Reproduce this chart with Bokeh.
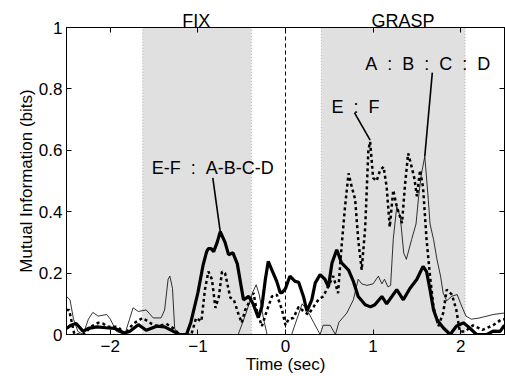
from bokeh.plotting import figure
from bokeh.models import Range1d, FixedTicker, LinearAxis, Label
from bokeh.embed import file_html
from bokeh.resources import INLINE

# ---- data ----
thick_x = [-2.5, -2.45, -2.39, -2.31, -2.25, -2.15, -2.05, -1.95, -1.84, -1.78, -1.68, -1.59, -1.47, -1.38,
           -1.28, -1.21, -1.13, -1.08, -1.0, -0.94, -0.90, -0.88, -0.85, -0.82, -0.78, -0.745, -0.69, -0.65,
           -0.60, -0.55, -0.52, -0.48, -0.42, -0.37, -0.31, -0.27, -0.23, -0.197, -0.155, -0.10, -0.06, -0.04,
           0.0, 0.05, 0.11, 0.15, 0.205, 0.245, 0.30, 0.34, 0.395, 0.45, 0.49, 0.53, 0.585, 0.64, 0.72, 0.775,
           0.83, 0.91, 0.97, 1.02, 1.10, 1.155, 1.27, 1.345, 1.42, 1.50, 1.57, 1.61, 1.65, 1.69, 1.73, 1.80,
           1.88, 1.95, 2.03, 2.10, 2.18, 2.30, 2.37, 2.45, 2.5]
thick_y = [0.02, 0.03, 0.036, 0.01, 0.02, 0.025, 0.022, 0.02, 0.005, 0.01, 0.032, 0.014, 0.027, 0.025,
           0.01, 0.0, 0.0, 0.04, 0.136, 0.227, 0.27, 0.28, 0.28, 0.27, 0.30, 0.335, 0.30, 0.26,
           0.266, 0.23, 0.18, 0.113, 0.124, 0.10, 0.055, 0.09, 0.18, 0.238, 0.21, 0.173, 0.136, 0.136,
           0.15, 0.19, 0.173, 0.17, 0.124, 0.076, 0.113, 0.168, 0.195, 0.18, 0.155, 0.232, 0.276, 0.233, 0.21, 0.173,
           0.124, 0.097, 0.09, 0.097, 0.124, 0.1, 0.146, 0.113, 0.15, 0.18, 0.222, 0.205, 0.146, 0.08, 0.048, 0.022,
           0.0, 0.027, 0.038, 0.022, 0.0, 0.0, 0.011, 0.01, 0.03]

dot_x = [-2.5, -2.47, -2.41, -2.31, -2.21, -2.14, -2.08, -2.03, -1.91, -1.835, -1.74, -1.63, -1.53, -1.455,
         -1.36, -1.28, -1.21, -1.075, -1.02, -0.96, -0.92, -0.88, -0.84, -0.80, -0.76, -0.725, -0.69, -0.63,
         -0.59, -0.535, -0.50, -0.46, -0.40, -0.365, -0.33, -0.27, -0.21, -0.155, -0.10, -0.04, 0.0, 0.035,
         0.09, 0.15, 0.205, 0.26, 0.32, 0.375, 0.43, 0.47, 0.545, 0.60, 0.64, 0.68, 0.72, 0.757, 0.795,
         0.83, 0.87, 0.91, 0.946, 0.966, 1.00, 1.04, 1.08, 1.12, 1.155, 1.19, 1.23, 1.27, 1.33, 1.365, 1.40,
         1.44, 1.47, 1.50, 1.536, 1.57, 1.61, 1.65, 1.69, 1.745, 1.80, 1.84, 1.90, 1.95, 1.99, 2.05, 2.14,
         2.25, 2.37, 2.47, 2.5]
dot_y = [0.08, 0.08, 0.0, 0.0, 0.027, 0.038, 0.035, 0.025, 0.025, 0.0, 0.035, 0.054, 0.035, 0.027,
         0.035, 0.02, 0.0, 0.0, 0.054, 0.043, 0.146, 0.205, 0.18, 0.087, 0.124, 0.205, 0.2, 0.12,
         0.113, 0.065, 0.038, 0.08, 0.113, 0.135, 0.08, 0.027, 0.08, 0.124, 0.13, 0.08, 0.03, 0.05,
         0.054, 0.09, 0.076, 0.065, 0.09, 0.113, 0.124, 0.146, 0.19, 0.135, 0.287, 0.417, 0.525, 0.48, 0.44,
         0.31, 0.21, 0.35, 0.60, 0.628, 0.51, 0.50, 0.535, 0.546, 0.48, 0.35, 0.47, 0.417, 0.363, 0.49, 0.59,
         0.546, 0.51, 0.45, 0.535, 0.48, 0.31, 0.19, 0.09, 0.027, 0.07, 0.146, 0.13, 0.08, 0.01, 0.01, 0.03,
         0.015, 0.03, 0.05, 0.05]

thin_x = [-2.5, -2.46, -2.42, -2.37, -2.31, -2.25, -2.20, -2.14, -2.04, -2.0, -1.93, -1.835, -1.78, -1.74,
          -1.68, -1.59, -1.51, -1.42, -1.38, -1.34, -1.32, -1.29, -1.265, -1.23, -0.54, -0.45, -0.37, -0.335,
          -0.30, -0.25, -0.21, 0.07, 0.13, 0.19, 0.245, 0.32, 0.395, 0.43, 0.51, 0.57, 0.61, 0.70, 0.775,
          0.83, 0.87, 0.93, 1.0, 1.06, 1.10, 1.13, 1.17, 1.20, 1.23, 1.27, 1.31, 1.35, 1.38, 1.44, 1.49,
          1.52, 1.55, 1.59, 1.63, 1.65, 1.69, 1.73, 1.77, 1.80, 1.84, 1.90, 1.96, 2.0, 2.06, 2.12, 2.2,
          2.3, 2.37, 2.5]
thin_y = [0.124, 0.113, 0.05, 0.01, 0.0, 0.05, 0.072, 0.06, 0.065, 0.05, 0.01, 0.0, 0.05, 0.087,
          0.075, 0.08, 0.054, 0.054, 0.08, 0.18, 0.19, 0.15, 0.02, 0.0, 0.0, 0.07, 0.14, 0.162,
          0.13, 0.05, 0.0, 0.0, 0.05, 0.10, 0.08, 0.04, 0.0, 0.03, 0.03, 0.0, 0.04, 0.07, 0.113,
          0.18, 0.165, 0.16, 0.165, 0.19, 0.165, 0.18, 0.155, 0.16, 0.31, 0.417, 0.384, 0.265, 0.245, 0.31, 0.36,
          0.45, 0.52, 0.58, 0.44, 0.36, 0.31, 0.243, 0.19, 0.135, 0.11, 0.125, 0.13, 0.1, 0.06, 0.05, 0.053,
          0.06, 0.065, 0.07]

# shaded epochs
epoch_names = ["FIX", "GRASP"]
epoch_left = [-1.63, 0.41]
epoch_right = [-0.39, 2.05]
epoch_label_x = [-1.02, 1.34]

# annotations: text, text position, pointer start/end
NB = "\u00a0"
ann_text = ["E-F" + NB * 2 + ":" + NB * 2 + "A-B-C-D",
            "E" + NB * 2 + ":" + NB * 2 + "F",
            (NB * 2 + ":" + NB * 2).join(["A", "B", "C", "D"])]
ann_tx = [-0.83, 0.80, 1.625]
ann_ty = [0.541, 0.741, 0.882]
ptr_x0 = [-0.83, 0.787, 1.676]
ptr_y0 = [0.51, 0.723, 0.853]
ptr_x1 = [-0.745, 0.966, 1.59]
ptr_y1 = [0.335, 0.633, 0.58]

x_ticks = [-2, -1, 0, 1, 2]
x_tick_labels = ["\u22122", "\u22121", "0", "1", "2"]
y_ticks = [0, 0.2, 0.4, 0.6, 0.8, 1]
y_tick_labels = ["0", "0.2", "0.4", "0.6", "0.8", "1"]

FONT = "Liberation Sans"
FS = "17px"

p = figure(width=505, height=376, output_backend="svg", toolbar_location=None,
           x_range=Range1d(-2.5, 2.5), y_range=Range1d(0, 1),
           min_border_left=66, min_border_right=1, min_border_top=27, min_border_bottom=41)
p.background_fill_color = "white"
p.border_fill_color = "white"
p.outline_line_color = "black"
p.outline_line_width = 1
p.xgrid.visible = False
p.ygrid.visible = False

# shaded regions
p.quad(left=epoch_left, right=epoch_right, bottom=[0, 0], top=[1, 1],
       fill_color="#e0e0e0", line_color="#b4b4b4", line_dash="1 2", line_width=1)

# zero line
p.line(x=[0, 0], y=[0, 1], line_color="black", line_dash="4 3", line_width=1)

# data lines
p.line(thin_x, thin_y, line_color="black", line_width=0.8)
p.line(dot_x, dot_y, line_color="black", line_width=2.5, line_dash="3 3")
p.line(thick_x, thick_y, line_color="black", line_width=3.2)

# pointers
p.segment(x0=ptr_x0, y0=ptr_y0, x1=ptr_x1, y1=ptr_y1, line_color="black", line_width=1.6)

for t, tx, ty in zip(ann_text, ann_tx, ann_ty):
    p.add_layout(Label(x=tx, y=ty, text=t, text_align="center", text_baseline="alphabetic",
                       text_font=FONT, text_font_size="18px", text_color="black"))

# axes
xa = p.xaxis[0]
ya = p.yaxis[0]
xa.ticker = FixedTicker(ticks=x_ticks)
ya.ticker = FixedTicker(ticks=y_ticks)
xa.major_label_overrides = {k: v for k, v in zip(x_ticks, x_tick_labels)}
ya.major_label_overrides = {k: v for k, v in zip(y_ticks, y_tick_labels)}
for ax in (xa, ya):
    ax.major_tick_in = 5
    ax.major_tick_out = 0
    ax.minor_tick_line_color = None
    ax.axis_line_color = "black"
    ax.major_tick_line_color = "black"
    ax.major_label_text_font = FONT
    ax.major_label_text_font_size = FS
    ax.major_label_text_color = "black"
    ax.axis_label_text_font = FONT
    ax.axis_label_text_font_size = FS
    ax.axis_label_text_font_style = "normal"
    ax.axis_label_text_color = "black"
xa.axis_label = "Time (sec)"
ya.axis_label = "Mutual Information (bits)"
xa.major_label_standoff = 5
xa.axis_label_standoff = 0
ya.major_label_standoff = 4
ya.axis_label_standoff = 0

# top axis: epoch names as labels, time ticks as (inward) minor ticks
top = LinearAxis(ticker=FixedTicker(ticks=epoch_label_x, minor_ticks=x_ticks),
                 major_label_overrides={k: v for k, v in zip(epoch_label_x, epoch_names)},
                 major_tick_in=0, major_tick_out=0, minor_tick_in=5, minor_tick_out=0,
                 minor_tick_line_color="black", major_label_standoff=-3,
                 major_label_text_font=FONT, major_label_text_font_size="18px",
                 major_label_text_color="black", axis_line_color="black")
right = LinearAxis(ticker=FixedTicker(ticks=y_ticks),
                   major_label_overrides={k: "" for k in y_ticks},
                   major_tick_in=5, major_tick_out=0, minor_tick_line_color=None,
                   major_label_standoff=0, axis_line_color="black")
p.add_layout(top, "above")
p.add_layout(right, "right")

open("out.html", "w").write(file_html(p, INLINE))
